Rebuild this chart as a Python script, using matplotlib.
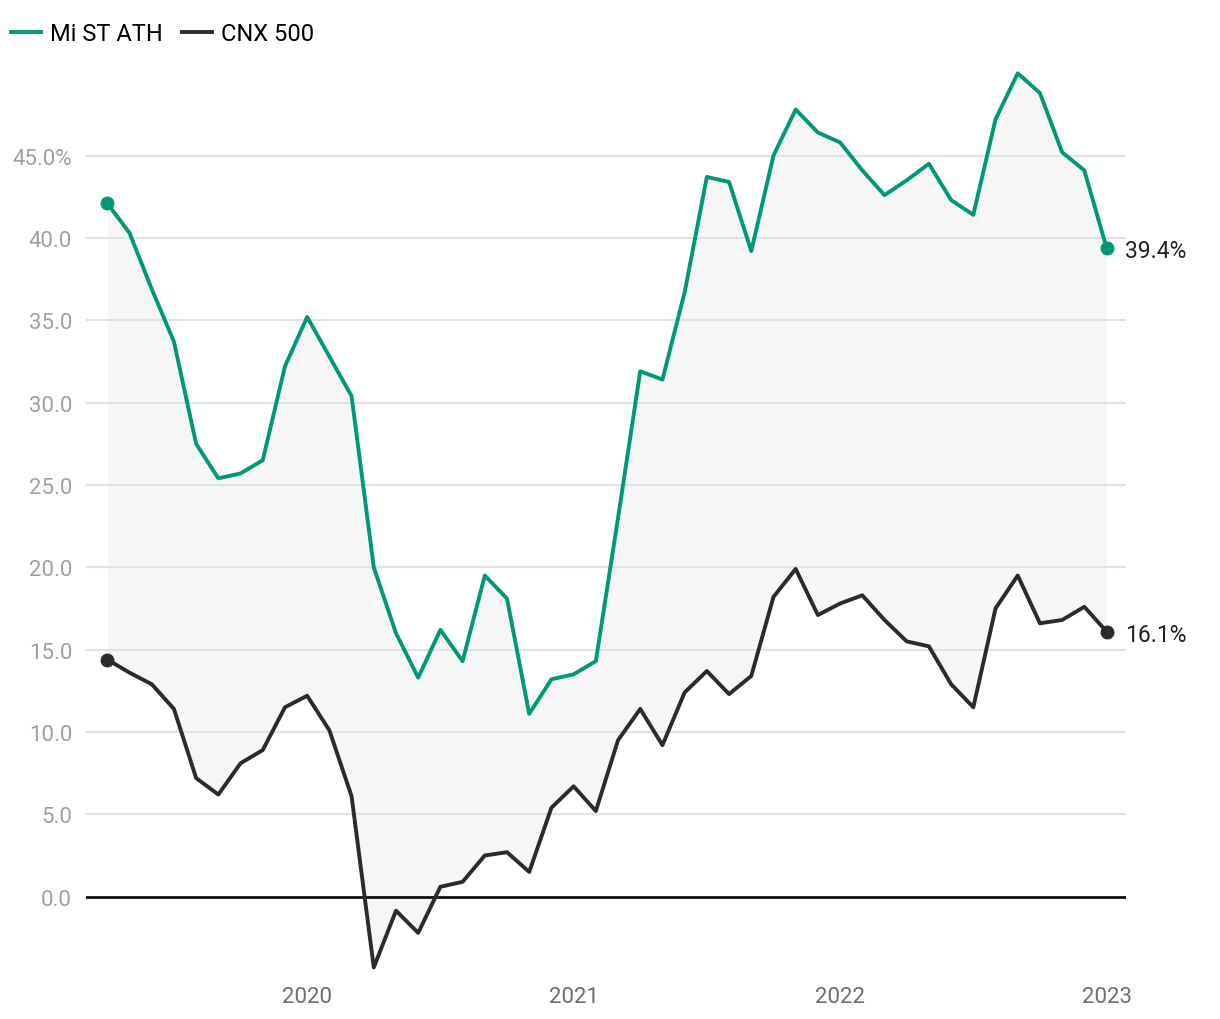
import numpy as np
import matplotlib
matplotlib.use('Agg')
import matplotlib.pyplot as plt

plt.rcParams['font.family'] = ['Roboto', 'DejaVu Sans']

# monthly points, Apr 2019 .. Jan 2023
start_year = 2019.25
mist_ath = [42.1, 40.3, 36.9, 33.7, 27.5, 25.4, 25.7, 26.5, 32.2, 35.2,
            32.8, 30.4, 20.0, 16.0, 13.3, 16.2, 14.3, 19.5, 18.1, 11.1,
            13.2, 13.5, 14.3, 23.0, 31.9, 31.4, 36.7, 43.7, 43.4, 39.2,
            45.0, 47.8, 46.4, 45.8, 44.1, 42.6, 43.5, 44.5, 42.3, 41.4,
            47.2, 50.0, 48.8, 45.2, 44.1, 39.4]
cnx500 = [14.4, 13.6, 12.9, 11.4, 7.2, 6.2, 8.1, 8.9, 11.5, 12.2,
          10.1, 6.1, -4.3, -0.85, -2.2, 0.6, 0.9, 2.5, 2.7, 1.5,
          5.4, 6.7, 5.2, 9.5, 11.4, 9.2, 12.4, 13.7, 12.3, 13.4,
          18.2, 19.9, 17.1, 17.8, 18.3, 16.8, 15.5, 15.2, 12.9, 11.5,
          17.5, 19.5, 16.6, 16.8, 17.6, 16.1]
series_names = ['Mi ST ATH', 'CNX 500']
year_ticks = [2020, 2021, 2022, 2023]
y_ticks = [0, 5, 10, 15, 20, 25, 30, 35, 40, 45]

green = '#009877'
dark = '#2b2b2b'

x = start_year + np.arange(len(mist_ath)) / 12.0

fig = plt.figure(figsize=(12.2, 10.2), dpi=100)
ax = fig.add_axes([86 / 1220, 40 / 1020, 1040 / 1220, 914 / 1020])

ax.fill_between(x, mist_ath, cnx500, color='#f6f6f6', lw=0, zorder=1)
for yt in y_ticks[1:]:
    ax.axhline(yt, color='#e2e2e2', lw=1.5, zorder=2)
ax.axhline(0, color='#111111', lw=2, zorder=3)

ax.plot(x, mist_ath, color=green, lw=2.8, zorder=4, label=series_names[0])
ax.plot(x, cnx500, color=dark, lw=2.8, zorder=4, label=series_names[1])
for vals, c in [(mist_ath, green), (cnx500, dark)]:
    ax.plot([x[0], x[-1]], [vals[0], vals[-1]], 'o', color=c, ms=9, zorder=5)
    ax.annotate(f'{vals[-1]:.1f}%', (x[-1], vals[-1]), xytext=(13, -2),
                textcoords='offset points', va='center', ha='left',
                fontsize=16.5, color='#222222')

ax.set_xlim(2019.17, 2023.073)
ax.set_ylim(-5, 50.5)
ax.set_xticks(year_ticks)
ax.set_xticklabels([str(y) for y in year_ticks], fontsize=16, color='#6e6e6e')
ax.set_yticks(y_ticks)
ax.set_yticklabels([f'{v:.1f}' + ('%' if v == 45 else '') for v in y_ticks],
                   fontsize=16, color='#a0a0a0')
ax.tick_params(length=0)
ax.tick_params(axis='x', pad=5)
ax.tick_params(axis='y', pad=10)
for s in ax.spines.values():
    s.set_visible(False)

fig.legend(loc='upper left', bbox_to_anchor=(-0.008, 0.998), ncol=2, frameon=False,
           fontsize=17, handlelength=1.25, handletextpad=0.4, columnspacing=0.8)

fig.savefig('out.png', dpi=100, facecolor='white')
